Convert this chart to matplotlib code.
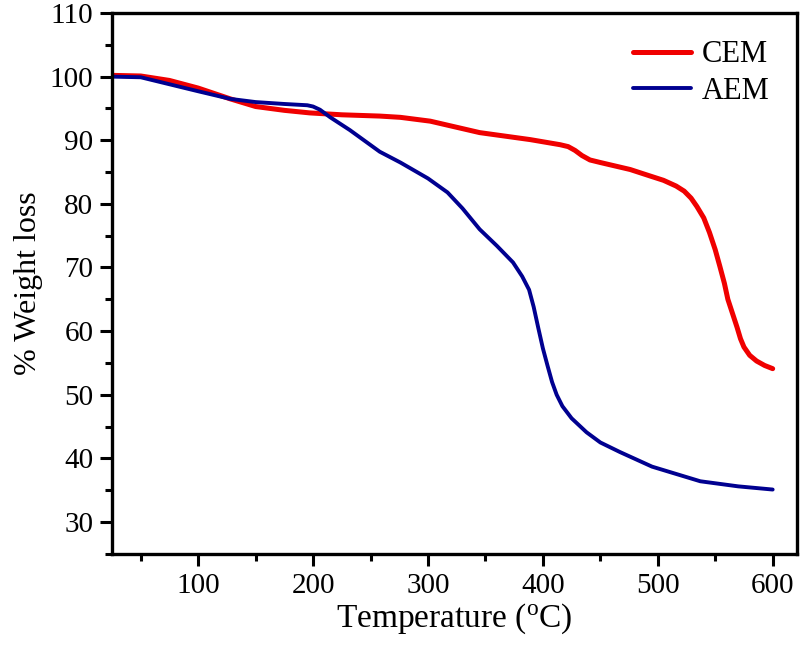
import matplotlib
matplotlib.use('Agg')
import matplotlib.pyplot as plt
from matplotlib.ticker import MultipleLocator

# CEM (red) curve
temp_cem = [25, 50, 75, 100, 128, 150, 175, 197, 225, 258, 276, 302, 345, 389,
            415, 422, 428, 434, 441, 450, 476, 493, 505, 516, 523, 529, 534, 540,
            545, 550, 554, 558, 561, 565, 569, 572, 575, 580, 586, 593, 600]
wt_cem = [100.2, 100.1, 99.4, 98.2, 96.5, 95.3, 94.7, 94.3, 94.0, 93.8, 93.6, 93.0,
          91.2, 90.1, 89.3, 89.0, 88.4, 87.6, 86.9, 86.5, 85.4, 84.4, 83.7, 82.8,
          82.0, 80.9, 79.6, 77.8, 75.5, 72.8, 70.2, 67.5, 65.0, 62.8, 60.6, 58.8,
          57.5, 56.2, 55.3, 54.6, 54.1]

# AEM (blue) curve
temp_aem = [25, 50, 75, 100, 128, 150, 175, 195, 200, 206, 215, 232, 258, 276,
            300, 317, 330, 345, 360, 374, 382, 388, 392, 396, 400, 404, 408, 412,
            417, 425, 438, 450, 467, 495, 537, 570, 600]
wt_aem = [100.0, 99.9, 98.8, 97.7, 96.5, 96.0, 95.7, 95.5, 95.3, 94.8, 93.6, 91.6,
          88.2, 86.5, 84.0, 81.8, 79.3, 76.0, 73.4, 70.8, 68.6, 66.5, 63.8, 60.5,
          57.3, 54.6, 52.0, 50.0, 48.2, 46.3, 44.1, 42.5, 41.0, 38.7, 36.4, 35.6, 35.1]

plt.rcParams['font.family'] = ['Liberation Serif', 'DejaVu Serif']
plt.rcParams['mathtext.fontset'] = 'custom'
plt.rcParams['mathtext.rm'] = 'Liberation Serif'

fig, ax = plt.subplots(figsize=(8, 6.5), dpi=100)
fig.subplots_adjust(left=0.14, right=0.996, top=0.98, bottom=0.148)

ax.plot(temp_cem, wt_cem, color='#f00000', linewidth=3.6, label='CEM',
        solid_capstyle='round', solid_joinstyle='round')
ax.plot(temp_aem, wt_aem, color='#000090', linewidth=2.8, label='AEM',
        solid_capstyle='round', solid_joinstyle='round')

ax.set_xlim(25, 621)
ax.set_ylim(25, 110)
ax.xaxis.set_minor_locator(MultipleLocator(50))
ax.yaxis.set_minor_locator(MultipleLocator(5))
ax.set_xticks([100, 200, 300, 400, 500, 600])
ax.set_yticks([30, 40, 50, 60, 70, 80, 90, 100, 110])

for s in ax.spines.values():
    s.set_linewidth(2.4)
ax.tick_params(which='major', direction='out', length=8.5, width=2.2, labelsize=21, pad=5)
ax.tick_params(which='minor', direction='out', length=5, width=2.2)

ax.set_xlabel('Temperature ($\\mathregular{^oC}$)', fontsize=24, labelpad=2)
ax.set_ylabel('% Weight loss', fontsize=23, labelpad=5)

leg = ax.legend(loc='upper right', frameon=False, fontsize=22, handlelength=1.9,
                handletextpad=0.35, labelspacing=0.25, borderaxespad=0.5)

fig.savefig('out.png', dpi=100)
